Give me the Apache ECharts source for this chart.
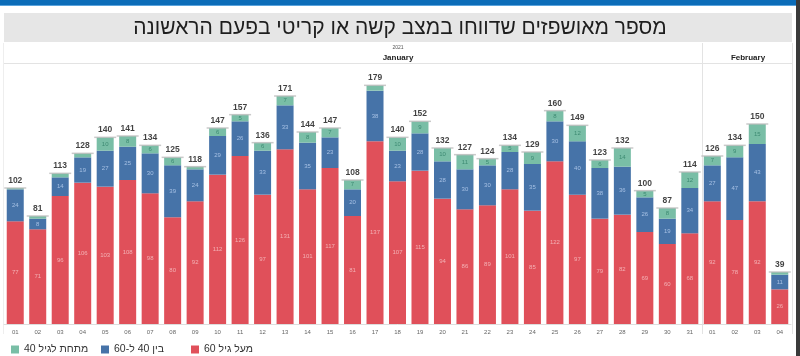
<!DOCTYPE html>
<html><head><meta charset="utf-8">
<script src="https://cdn.jsdelivr.net/npm/echarts@6/dist/echarts.min.js"></script>
<style>html,body{margin:0;padding:0;background:#fff}#c{width:800px;height:356px}</style>
</head><body><div id="c"></div>
<script>
const days = ['01','02','03','04','05','06','07','08','09','10','11','12','13','14','15','16','17','18','19','20','21','22','23','24','25','26','27','28','29','30','31','01','02','03','04'];
const over60 = [77,71,96,106,103,108,98,80,92,112,126,97,131,101,117,81,137,107,115,94,86,89,101,85,122,97,79,82,69,60,68,92,78,92,26];
const age40to60 = [24,8,14,19,27,25,30,39,24,29,26,33,33,35,23,20,38,23,28,28,30,30,28,35,30,40,38,36,26,19,34,27,47,43,11];
const under40 = [1,2,3,3,10,8,6,6,2,6,5,6,7,8,7,7,4,10,9,10,11,5,5,9,8,12,6,14,5,8,12,7,9,15,2];
const totals = [102,81,113,128,140,141,134,125,118,147,157,136,171,144,147,108,179,140,152,132,127,124,134,129,160,149,123,132,100,87,114,126,134,150,39];
const names = ['מעל גיל 60','בין 40 ל-60','מתחת לגיל 40'];
const titleText = 'מספר מאושפזים שדווחו במצב קשה או קריטי בפעם הראשונה';

const chart = echarts.init(document.getElementById('c'));
const segLabel = (color) => ({
  show: true, position: 'inside', fontSize: 6, color: color,
  formatter: p => (p.value >= 5 ? String(p.value) : '')
});
const mkLegend = (name, left) => ({
  data: [name], left: left, top: 339, itemWidth: 8, itemHeight: 8, itemGap: 5,
  icon: 'rect', textStyle: {fontSize: 10.5, color: '#333'}
});
chart.setOption({
  animation: false,
  textStyle: {fontFamily: 'Liberation Sans, Arial, sans-serif'},
  graphic: [
    {type:'rect', shape:{x:0,y:0,width:800,height:5}, style:{fill:'#0b6cb8'}, z:-1},
    {type:'rect', shape:{x:0,y:5,width:800,height:1}, style:{fill:'#5aa3dc'}, z:-1},
    {type:'rect', shape:{x:796,y:0,width:4,height:356}, style:{fill:'#3a3a3a'}, z:-1},
    {type:'rect', shape:{x:4,y:13,width:788,height:29}, style:{fill:'#e6e6e6'}, z:-1},
    {type:'text', x:400, y:28, style:{text:titleText, fill:'#1e1e1e', font:'21px "Liberation Sans", Arial, sans-serif', textAlign:'center', textVerticalAlign:'middle'}},
    {type:'line', shape:{x1:4,y1:63.5,x2:792,y2:63.5}, style:{stroke:'#e3e3e3', lineWidth:1}},
    {type:'line', shape:{x1:702.5,y1:43,x2:702.5,y2:334}, style:{stroke:'#e3e3e3', lineWidth:1}},
    {type:'line', shape:{x1:792.5,y1:43,x2:792.5,y2:334}, style:{stroke:'#e3e3e3', lineWidth:1}},
    {type:'line', shape:{x1:3.5,y1:43,x2:3.5,y2:334}, style:{stroke:'#eeeeee', lineWidth:1}},
    {type:'text', x:398, y:48, style:{text:'2021', fill:'#555', font:'5px "Liberation Sans", Arial, sans-serif', textAlign:'center', textVerticalAlign:'middle'}},
    {type:'text', x:398, y:58, style:{text:'January', fill:'#222', font:'bold 8px "Liberation Sans", Arial, sans-serif', textAlign:'center', textVerticalAlign:'middle'}},
    {type:'text', x:748, y:58, style:{text:'February', fill:'#222', font:'bold 8px "Liberation Sans", Arial, sans-serif', textAlign:'center', textVerticalAlign:'middle'}}
  ],
  legend: [mkLegend(names[2], 6), mkLegend(names[1], 96), mkLegend(names[0], 186)],
  grid: {left: 4, right: 9, top: 64, bottom: 32},
  xAxis: {
    type: 'category', data: days,
    axisLine: {show: true, lineStyle: {color: '#dddddd'}},
    axisTick: {show: false},
    axisLabel: {fontSize: 6, color: '#666', margin: 5, interval: 0}
  },
  yAxis: {type: 'value', min: 0, max: 195, show: false, splitLine: {show: false}},
  series: [
    {name: names[0], type: 'bar', stack: 's', data: over60, barWidth: 17, itemStyle: {color: '#e0505a'}, label: segLabel('#f3b0b4')},
    {name: names[1], type: 'bar', stack: 's', data: age40to60, barWidth: 17, itemStyle: {color: '#4673a8'}, label: segLabel('#a6c0e4')},
    {name: names[2], type: 'bar', stack: 's', data: under40, barWidth: 17, itemStyle: {color: '#79bea6'}, label: segLabel('#3d8a72')},
    {name: 'total', type: 'scatter', data: totals, symbol: 'rect', symbolSize: [22, 1.5],
     itemStyle: {color: '#bdbdbd'}, z: 5,
     label: {show: true, position: 'top', distance: 2, fontSize: 8.5, fontWeight: 'bold', color: '#111'}}
  ]
});
</script></body></html>
